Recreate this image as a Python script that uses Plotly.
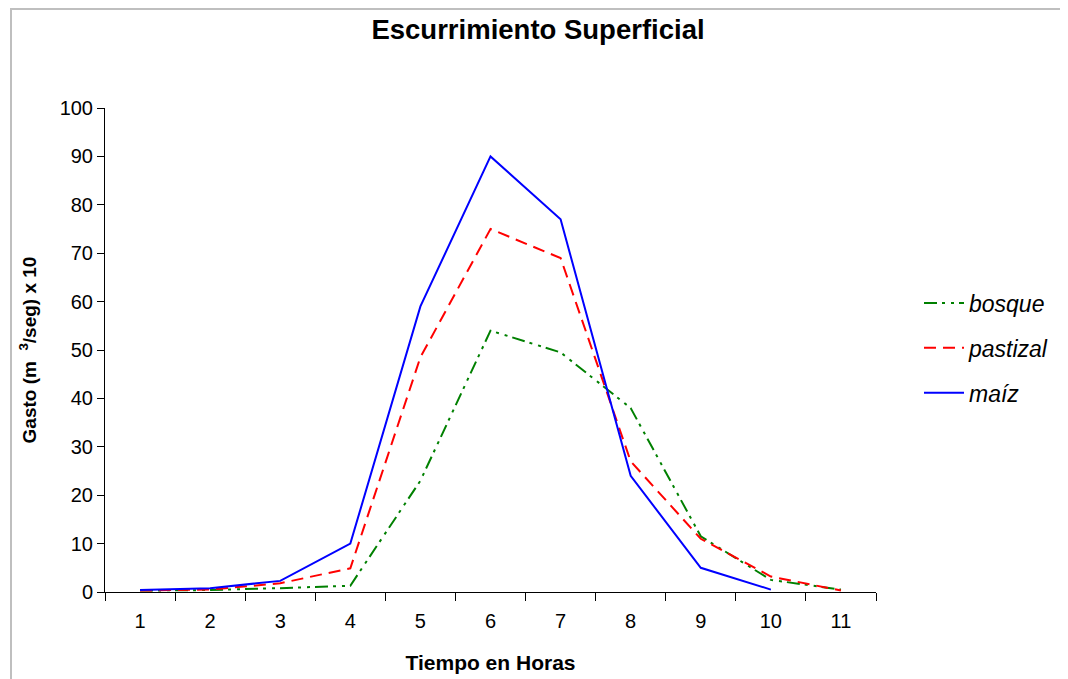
import plotly.graph_objects as go

horas = ["1", "2", "3", "4", "5", "6", "7", "8", "9", "10", "11"]
bosque = [0.3, 0.4, 0.8, 1.3, 23, 54, 49.5, 38, 11.5, 2.5, 0.5]
pastizal = [0.3, 0.5, 1.8, 4.9, 48.5, 75, 69, 27, 11, 3.2, 0.3]
maiz = [0.4, 0.8, 2.3, 10, 59, 90, 77, 24, 5, 0.5]

FONT = "Liberation Sans, Arial, sans-serif"

# page body has an 8px margin, so the figure is drawn 8px in from the top-left
W, H = 1060, 671
L, T = 97, 100
PW, PH = 771, 484

fig = go.Figure()
fig.add_trace(go.Scatter(x=horas, y=bosque, mode="lines", name="bosque", legendgroup="a",
                         line=dict(color="#008000", width=2, dash="13px,5px,3px,6px,3px,5px")))
fig.add_trace(go.Scatter(x=horas, y=pastizal, mode="lines", name="pastizal", legendgroup="b",
                         line=dict(color="#FF0000", width=2, dash="12px,7px")))
fig.add_trace(go.Scatter(x=horas[:len(maiz)], y=maiz, mode="lines", name="maíz", legendgroup="c",
                         line=dict(color="#0000FF", width=2)))

fig.update_layout(
    width=W, height=H,
    paper_bgcolor="white", plot_bgcolor="white",
    margin=dict(l=L, r=W - L - PW, t=T, b=H - T - PH, pad=0),
    font=dict(family=FONT, color="black"),
    title=dict(text="<b>Escurrimiento Superficial</b>", x=530 / W, xref="container",
               y=1 - 21 / H, yref="container", xanchor="center", yanchor="middle",
               font=dict(size=27.5, family=FONT, color="black")),
    showlegend=True,
    legend=dict(xref="container", yref="container",
                x=(919 - 8) / W, y=1 - (348 - 8) / H, xanchor="left", yanchor="middle",
                font=dict(size=23, family=FONT, style="italic", color="black"),
                tracegroupgap=12, bgcolor="rgba(0,0,0,0)", itemwidth=40, borderwidth=0),
    xaxis=dict(type="category", tickson="boundaries", ticks="outside", ticklen=8,
               tickcolor="black", showline=True, linecolor="black", linewidth=1,
               showgrid=False, zeroline=False, range=[-0.5, 10.5], automargin=False,
               tickfont=dict(size=20, family=FONT), ticklabelstandoff=11,
               title=dict(text="<b>Tiempo en Horas</b>", font=dict(size=21, family=FONT), standoff=24)),
    yaxis=dict(range=[0, 100], dtick=10, ticks="outside", ticklen=7, tickcolor="black",
               showline=True, linecolor="black", linewidth=1, showgrid=False, zeroline=False,
               automargin=False,
               tickfont=dict(size=20, family=FONT),
               title=dict(text="<b>Gasto (m  <sup>3</sup>/seg) x 10</b>", font=dict(size=19, family=FONT),
                          standoff=17)),
    shapes=[dict(type="rect", xref="paper", yref="paper",
                 x0=(11 - 105) / PW, x1=1.4, y0=-0.4, y1=(592 - 9) / PH,
                 line=dict(color="#BFBFBF", width=2), fillcolor="rgba(0,0,0,0)", layer="below")],
)

fig.write_html("out.html")
